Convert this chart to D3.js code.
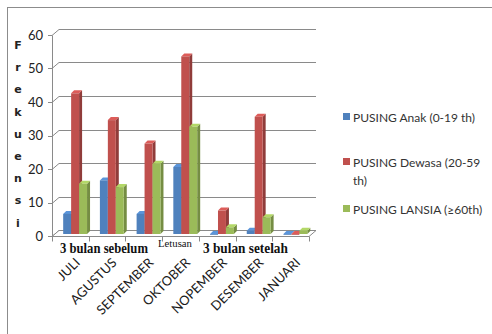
<!DOCTYPE html>
<html>
<head>
<meta charset="utf-8">
<script src="https://cdn.jsdelivr.net/npm/d3@7"></script>
<style>
  html, body { margin: 0; padding: 0; background: #fff; }
  svg { display: block; }
</style>
</head>
<body>
<svg id="chart" width="492" height="334"></svg>
<script>
// Monthly headache (PUSING) cases by age group around the eruption
const months = ["JULI", "AGUSTUS", "SEPTEMBER", "OKTOBER", "NOPEMBER", "DESEMBER", "JANUARI"];
const seriesNames = ["PUSING Anak (0-19 th)", "PUSING Dewasa (20-59 th)", "PUSING LANSIA (\u226560th)"];
const anak   = [6, 16, 6, 20, 0, 1, 0];
const dewasa = [42, 34, 27, 53, 7, 35, 0];
const lansia = [15, 14, 21, 32, 2, 5, 1];
const yTicks = [0, 10, 20, 30, 40, 50, 60];
const periodLabels = ["3 bulan sebelum", "Letusan", "3 bulan setelah"];

const svg = d3.select("#chart");
const colors = ["#4F81BD", "#C0504D", "#9BBB59"];
const values = [anak, dewasa, lansia];

// outer frame
svg.append("rect").attr("x", 7.5).attr("y", 7.5).attr("width", 520).attr("height", 360)
  .attr("fill", "none").attr("stroke", "#8c8c8c").attr("stroke-width", 1);

// 3D plot area geometry
const xLeft = 52, xRight = 309;      // front edge of floor
const depthX = 7, depthY = -6;       // wall depth offset
const y = d3.scaleLinear().domain([0, 60]).range([236, 35]);
const x = d3.scaleBand().domain(months).range([xLeft, xRight]);
const xs = d3.scaleBand().domain(d3.range(3)).range([x.bandwidth() * 0.25, x.bandwidth() * 0.9]);

const grid = svg.append("g").attr("fill", "none").attr("stroke", "#8a8a8a").attr("stroke-width", 1);

// back-wall gridlines with left-wall diagonal
yTicks.forEach(t => {
  const yy = Math.round(y(t)) + 0.5;
  grid.append("path")
    .attr("d", `M${xLeft},${yy} L${xLeft + depthX},${yy + depthY} L${xRight + depthX},${yy + depthY}`);
  grid.append("line").attr("x1", xLeft - 4).attr("x2", xLeft).attr("y1", yy).attr("y2", yy);
});
// left wall front edge
grid.append("line").attr("x1", xLeft + 0.5).attr("x2", xLeft + 0.5)
  .attr("y1", Math.round(y(60)) + 0.5).attr("y2", Math.round(y(0)) + 0.5);

// floor
const fy = Math.round(y(0)) + 0.5;
svg.append("path")
  .attr("d", `M${xLeft},${fy} L${xLeft + depthX},${fy + depthY} L${xRight + depthX},${fy + depthY} L${xRight},${fy} Z`)
  .attr("fill", "#fff").attr("stroke", "#8a8a8a");
// category ticks
months.concat([null]).forEach((m, i) => {
  const xx = Math.round(m ? x(m) : xRight) + 0.5;
  svg.append("line").attr("x1", xx).attr("x2", xx).attr("y1", fy).attr("y2", fy + 5)
    .attr("stroke", "#8a8a8a");
});

// y-axis tick labels
svg.append("g").selectAll("text").data(yTicks).join("text")
  .attr("x", 43).attr("y", d => y(d)).attr("dy", "0.36em")
  .attr("text-anchor", "end").attr("font-family", "Lato, 'Open Sans', sans-serif")
  .attr("font-size", 13).attr("fill", "#222").text(d => d);

// 3D bars
const bx = 2, by = -2;   // bars sit slightly back from the front plane
const sdx = 3, sdy = -3; // bar depth
const bars = svg.append("g");
months.forEach((m, i) => {
  values.forEach((vals, s) => {
    const v = vals[i];
    const x0 = x(m) + xs(s) + bx;
    const w = xs.bandwidth();
    const yb = y(0) + by;
    const yt = y(v) + by;
    const c = d3.color(colors[s]);
    // side face
    bars.append("path")
      .attr("d", `M${x0 + w},${yt} L${x0 + w + sdx},${yt + sdy} L${x0 + w + sdx},${yb + sdy} L${x0 + w},${yb} Z`)
      .attr("fill", c.darker(0.8));
    // top face
    bars.append("path")
      .attr("d", `M${x0},${yt} L${x0 + sdx},${yt + sdy} L${x0 + w + sdx},${yt + sdy} L${x0 + w},${yt} Z`)
      .attr("fill", c.brighter(0.4));
    // front face
    bars.append("rect").attr("x", x0).attr("y", yt).attr("width", w).attr("height", Math.max(yb - yt, 0.8))
      .attr("fill", colors[s]);
  });
});

// period annotations, horizontally condensed to a fixed width
const serif = "'Liberation Serif', 'Times New Roman', serif";
function condensed(label, x0, y0, size, bold, width) {
  const t = svg.append("text").attr("font-family", serif)
    .attr("font-weight", bold ? "bold" : "normal").attr("font-size", size).attr("fill", "#111")
    .text(label);
  const natural = t.node().getComputedTextLength();
  t.attr("transform", `translate(${x0},${y0}) scale(${width / natural},1)`);
}
condensed(periodLabels[0], 60, 253, 15, true, 88);
condensed(periodLabels[1], 158, 247, 10, false, 34);
condensed(periodLabels[2], 203, 253, 15, true, 85);

// category labels rotated
svg.append("g").selectAll("text").data(months).join("text")
  .attr("transform", d => `translate(${x(d) + x.bandwidth() / 2 + 4},${257}) rotate(-45)`)
  .attr("text-anchor", "end").attr("dy", "0.7em")
  .attr("font-family", "Lato, 'Open Sans', sans-serif").attr("font-size", 13).attr("fill", "#1a1a1a")
  .text(d => d);

// y-axis title, letters stacked vertically
const title = svg.append("text").attr("font-family", "'DejaVu Sans', sans-serif")
  .attr("font-weight", "bold").attr("font-size", 11).attr("fill", "#222").attr("text-anchor", "middle");
"Frekuensi".split("").forEach((ch, i) => {
  title.append("tspan").attr("x", 18).attr("y", 49 + i * 22.2).text(ch);
});

// legend
const legendRows = [
  { lines: ["PUSING Anak (0-19 th)"], y: 113 },
  { lines: ["PUSING Dewasa (20-59", "th)"], y: 158 },
  { lines: ["PUSING LANSIA (\u226560th)"], y: 205 }
];
const leg = svg.append("g");
legendRows.forEach((r, i) => {
  leg.append("rect").attr("x", 343).attr("y", r.y).attr("width", 7).attr("height", 7).attr("fill", colors[i]);
  const t = leg.append("text").attr("font-family", "Lato, 'Open Sans', sans-serif")
    .attr("font-size", 12).attr("fill", "#333");
  r.lines.forEach((ln, j) => {
    t.append("tspan").attr("x", 353).attr("y", r.y + 9 + j * 18).text(ln);
  });
});
</script>
</body>
</html>
